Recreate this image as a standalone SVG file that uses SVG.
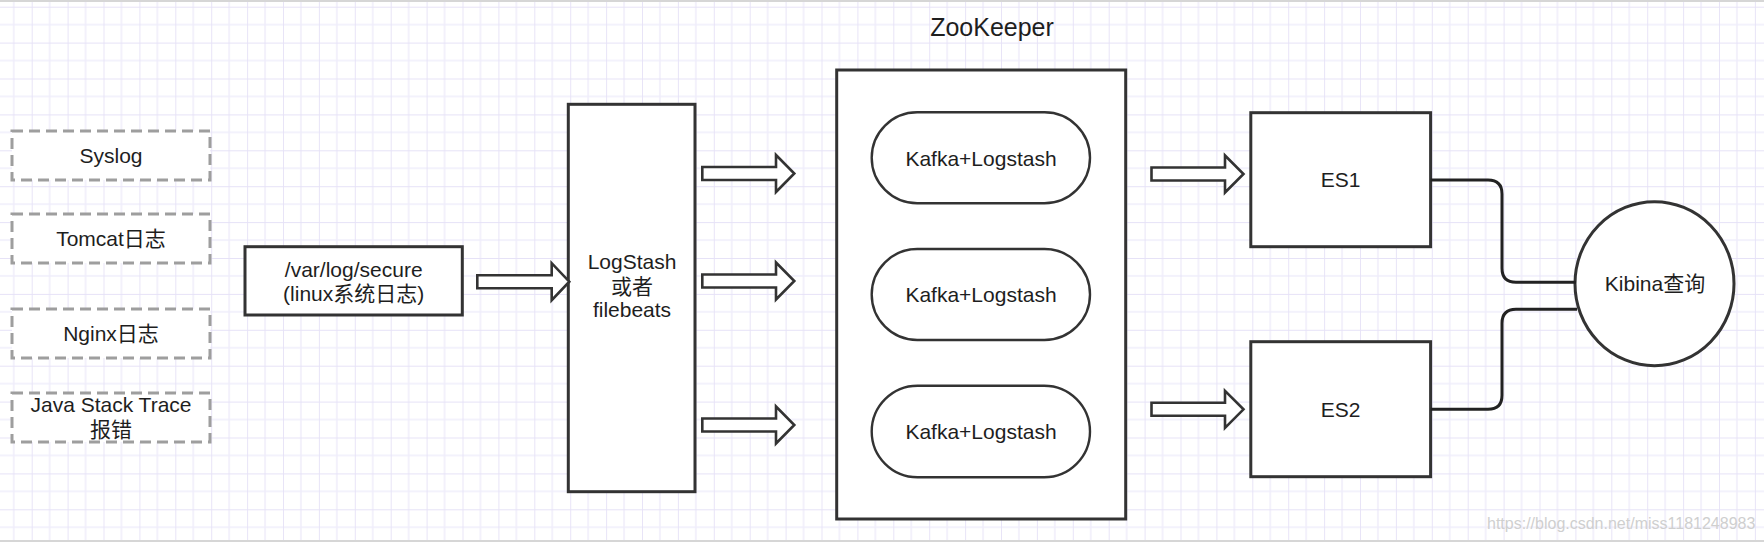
<svg xmlns="http://www.w3.org/2000/svg" width="1764" height="542" viewBox="0 0 1764 542">
<defs>
<pattern id="grid" patternUnits="userSpaceOnUse" x="31.7" y="6.7" width="35.9" height="35.9">
<path d="M17.95 0V35.9M0 17.95H35.9" stroke="#f0eefb" stroke-width="1.6" fill="none"/>
<path d="M0 0V35.9M0 0H35.9" stroke="#e6e2f7" stroke-width="1.8" fill="none"/>
</pattern>
<style>
text{font-family:"Liberation Sans","Noto Sans CJK SC",Arial,sans-serif;font-size:21px;fill:#1e1e1e;text-anchor:middle}
.dash{fill:#fff;stroke:#9e9e9e;stroke-width:3;stroke-dasharray:11 6}
.box{fill:#fff;stroke:#333;stroke-width:3}
.pill{fill:#fff;stroke:#333;stroke-width:2.4}
.arrow{fill:#fff;stroke:#333;stroke-width:2.6;stroke-linejoin:miter}
.link{fill:none;stroke:#222;stroke-width:3}
.wm{font-size:16px;fill:#cfcfcf;text-anchor:start}
</style>
</defs>
<rect width="1764" height="542" fill="#fff"/>
<rect width="1764" height="542" fill="url(#grid)"/>
<line x1="0" y1="1" x2="1764" y2="1" stroke="#d6d6d6" stroke-width="2"/>
<line x1="0" y1="541" x2="1764" y2="541" stroke="#d6d6d6" stroke-width="2"/>

<g id="zookeeper">
<rect class="box" x="836.7" y="70" width="289" height="449"/>
<text x="992" y="36" style="font-size:25px">ZooKeeper</text>
</g>

<g id="syslog"><rect class="dash" x="12" y="131" width="198" height="49"/><text x="111" y="163">Syslog</text></g>
<g id="tomcat"><rect class="dash" x="12" y="214" width="198" height="49"/><text x="111" y="245.5">Tomcat日志</text></g>
<g id="nginx"><rect class="dash" x="12" y="309" width="198" height="49"/><text x="111" y="340.5">Nginx日志</text></g>
<g id="java"><rect class="dash" x="12" y="393" width="198" height="49"/><text x="111" y="412">Java Stack Trace</text><text x="111" y="437">报错</text></g>

<g id="varlog"><rect class="box" x="245" y="246.7" width="217.3" height="68.3"/><text x="353.7" y="277">/var/log/secure</text><text x="353.7" y="300.5">(linux系统日志)</text></g>

<g id="logstash"><rect class="box" x="568.3" y="104.3" width="126.7" height="387.4"/><text x="632" y="268.7">LogStash</text><text x="632" y="293.7">或者</text><text x="632" y="317">filebeats</text></g>

<g id="kafka1"><rect class="pill" x="871.7" y="112.3" width="218.3" height="91" rx="45.5"/><text x="981" y="165.5">Kafka+Logstash</text></g>
<g id="kafka2"><rect class="pill" x="871.7" y="249" width="218.3" height="91" rx="45.5"/><text x="981" y="302">Kafka+Logstash</text></g>
<g id="kafka3"><rect class="pill" x="871.7" y="385.7" width="218.3" height="91.6" rx="45.8"/><text x="981" y="439">Kafka+Logstash</text></g>

<g id="es1"><rect class="box" x="1250.8" y="112.7" width="179.8" height="134"/><text x="1340.7" y="186.5">ES1</text></g>
<g id="es2"><rect class="box" x="1250.8" y="341.7" width="179.8" height="135"/><text x="1340.7" y="417">ES2</text></g>

<g id="kibina"><ellipse cx="1654.5" cy="283.7" rx="79.5" ry="82" fill="#fff" stroke="#333" stroke-width="3"/><text x="1655" y="290.5">Kibina查询</text></g>

<g id="connectors">
<polygon class="arrow" points="477.3,275.2 551.7,275.2 551.7,263.2 569.3,281.7 551.7,300.2 551.7,288.2 477.3,288.2"/>
<polygon class="arrow" points="702.3,167 776,167 776,155 794.3,173.5 776,192 776,180 702.3,180"/>
<polygon class="arrow" points="702.3,274.5 776,274.5 776,262.5 794.3,281 776,299.5 776,287.5 702.3,287.5"/>
<polygon class="arrow" points="702.3,418.5 776,418.5 776,406.5 794.3,425 776,443.5 776,431.5 702.3,431.5"/>
<polygon class="arrow" points="1151.5,167.5 1225,167.5 1225,155.5 1243.5,174 1225,192.5 1225,180.5 1151.5,180.5"/>
<polygon class="arrow" points="1151.5,402.8 1225,402.8 1225,390.8 1243.5,409.3 1225,427.8 1225,415.8 1151.5,415.8"/>
<path class="link" d="M1430.6 180H1488Q1502 180 1502 194V268.3Q1502 282.3 1516 282.3H1576"/>
<path class="link" d="M1430.6 409.3H1488Q1502 409.3 1502 395.3V323.3Q1502 309.3 1516 309.3H1577"/>
</g>

<text class="wm" x="1487" y="529">https://blog.csdn.net/miss1181248983</text>
</svg>
